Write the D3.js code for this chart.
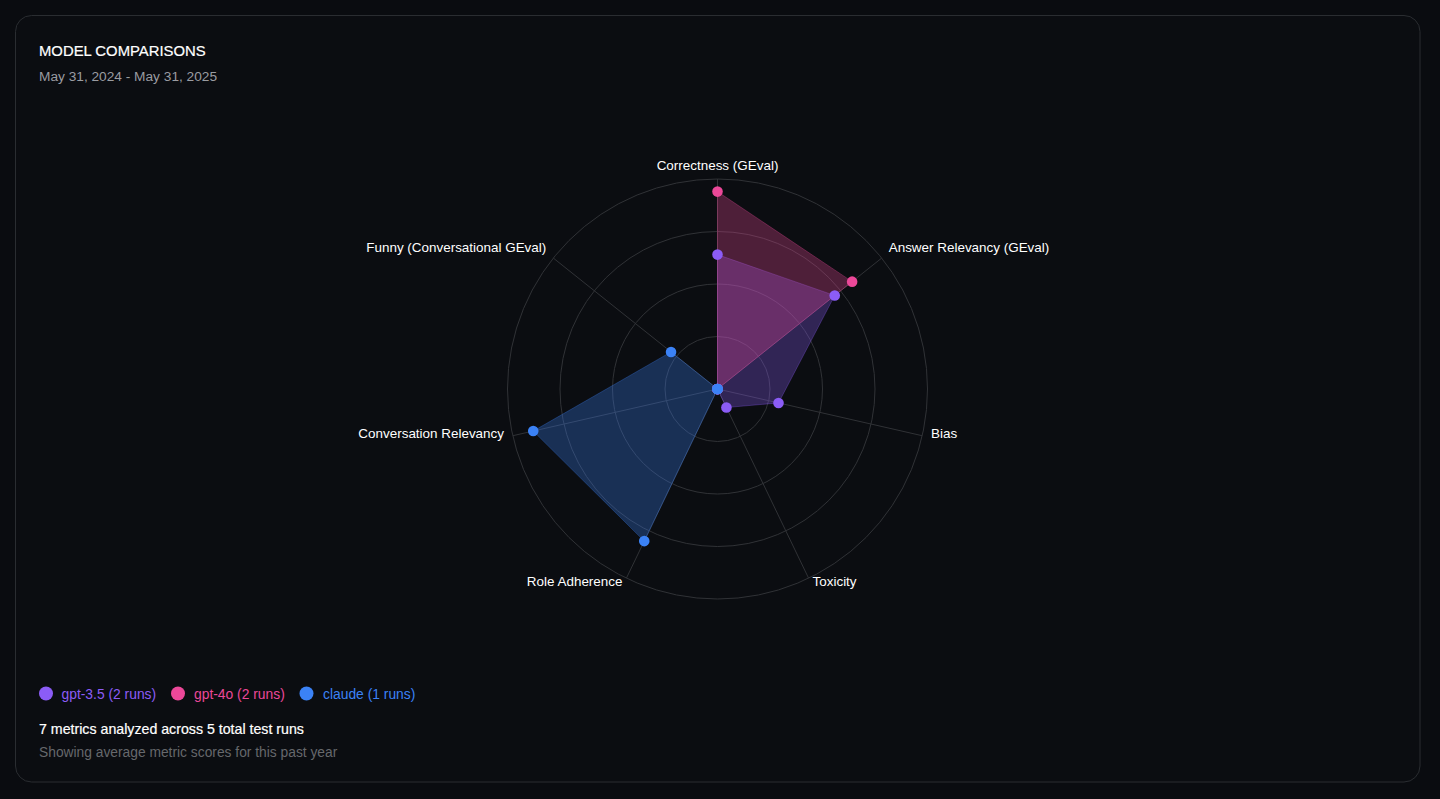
<!DOCTYPE html>
<html><head><meta charset="utf-8">
<script src="https://cdn.jsdelivr.net/npm/d3@7/dist/d3.min.js"></script>
<style>
html,body{margin:0;padding:0;background:#0a0c10;overflow:hidden}
svg{display:block;font-family:"Liberation Sans",Arial,sans-serif}
</style></head><body>
<svg id="c" width="1440" height="799"></svg>
<script>
const metrics = ["Correctness (GEval)","Answer Relevancy (GEval)","Bias","Toxicity","Role Adherence","Conversation Relevancy","Funny (Conversational GEval)"];
const gpt35Values = [0.64,0.714,0.298,0.098,0,0,0];
const gpt4oValues = [0.94,0.82,0,0,0,0,0];
const claudeValues = [0,0,0,0,0.804,0.90,0.283];
const seriesNames = ["gpt-3.5 (2 runs)","gpt-4o (2 runs)","claude (1 runs)"];
const seriesColors = ["#8b5cf6","#ec4899","#3b82f6"];
const gridLevels = [0.25,0.5,0.75,1];
const title = "MODEL COMPARISONS";
const dateRange = "May 31, 2024 - May 31, 2025";
const footerMain = "7 metrics analyzed across 5 total test runs";
const footerSub = "Showing average metric scores for this past year";

const svg = d3.select("#c");
const cx = 717.5, cy = 389, R = 210;
const rScale = d3.scaleLinear().domain([0,1]).range([0,R]);
const angle = d3.scalePoint().domain(d3.range(metrics.length)).range([0, 2*Math.PI*(metrics.length-1)/metrics.length]);
const px = (i,v)=> rScale(v)*Math.sin(angle(i));
const py = (i,v)=> -rScale(v)*Math.cos(angle(i));

svg.append("rect").attr("x",15.5).attr("y",15.5).attr("width",1404.5).attr("height",766.5).attr("rx",16)
  .attr("fill","#0b0d11").attr("stroke","#2a2d31");

svg.append("text").attr("x",39).attr("y",56).attr("fill","#fff").attr("font-size",14.85)
  .attr("stroke","#fff").attr("stroke-width",0.2).text(title);
svg.append("text").attr("x",39).attr("y",81).attr("fill","#9a9ca1").attr("font-size",13.7).text(dateRange);

const g = svg.append("g").attr("transform",`translate(${cx},${cy})`);
g.selectAll("circle.ring").data(gridLevels).join("circle").attr("class","ring")
  .attr("r",d=>rScale(d)).attr("fill","none").attr("stroke","#303236").attr("stroke-width",1);
g.selectAll("line.spoke").data(metrics).join("line").attr("class","spoke")
  .attr("x1",0).attr("y1",0).attr("x2",(d,i)=>px(i,1)).attr("y2",(d,i)=>py(i,1))
  .attr("stroke","#303236").attr("stroke-width",1);

const radial = d3.lineRadial().angle((d,i)=>angle(i)).radius(d=>rScale(d)).curve(d3.curveLinearClosed);
const allSeries = [gpt35Values,gpt4oValues,claudeValues];
allSeries.forEach((vals,k)=>{
  g.append("path").attr("d",radial(vals)).attr("fill",seriesColors[k]).attr("fill-opacity",0.3)
    .attr("stroke",seriesColors[k]).attr("stroke-opacity",0.3).attr("stroke-width",1);
});
allSeries.forEach((vals,k)=>{
  g.selectAll(null).data(vals).join("circle")
    .attr("cx",(d,i)=>px(i,d)).attr("cy",(d,i)=>py(i,d)).attr("r",5.3).attr("fill",seriesColors[k]);
});

g.selectAll("text.lab").data(metrics).join("text").attr("class","lab")
  .attr("x",(d,i)=>(R+9)*Math.sin(angle(i))).attr("y",(d,i)=>-(R+9)*Math.cos(angle(i)))
  .attr("text-anchor",(d,i)=>{const s=Math.sin(angle(i));return Math.abs(s)<1e-6?"middle":s>0?"start":"end";})
  .attr("fill","#fff").attr("font-size",13.45).text(d=>d);

const legendX = [46,178,306.5];
const legendTextX = [61.5,194,323];
seriesNames.forEach((n,k)=>{
  svg.append("circle").attr("cx",legendX[k]).attr("cy",693.5).attr("r",7).attr("fill",seriesColors[k]);
  svg.append("text").attr("x",legendTextX[k]).attr("y",698.5).attr("fill",seriesColors[k]).attr("font-size",13.85).text(n);
});
svg.append("text").attr("x",39).attr("y",734).attr("fill","#fff").attr("font-size",14.2)
  .attr("stroke","#fff").attr("stroke-width",0.2).text(footerMain);
svg.append("text").attr("x",39).attr("y",757).attr("fill","#66686c").attr("font-size",13.8).text(footerSub);
</script></body></html>
